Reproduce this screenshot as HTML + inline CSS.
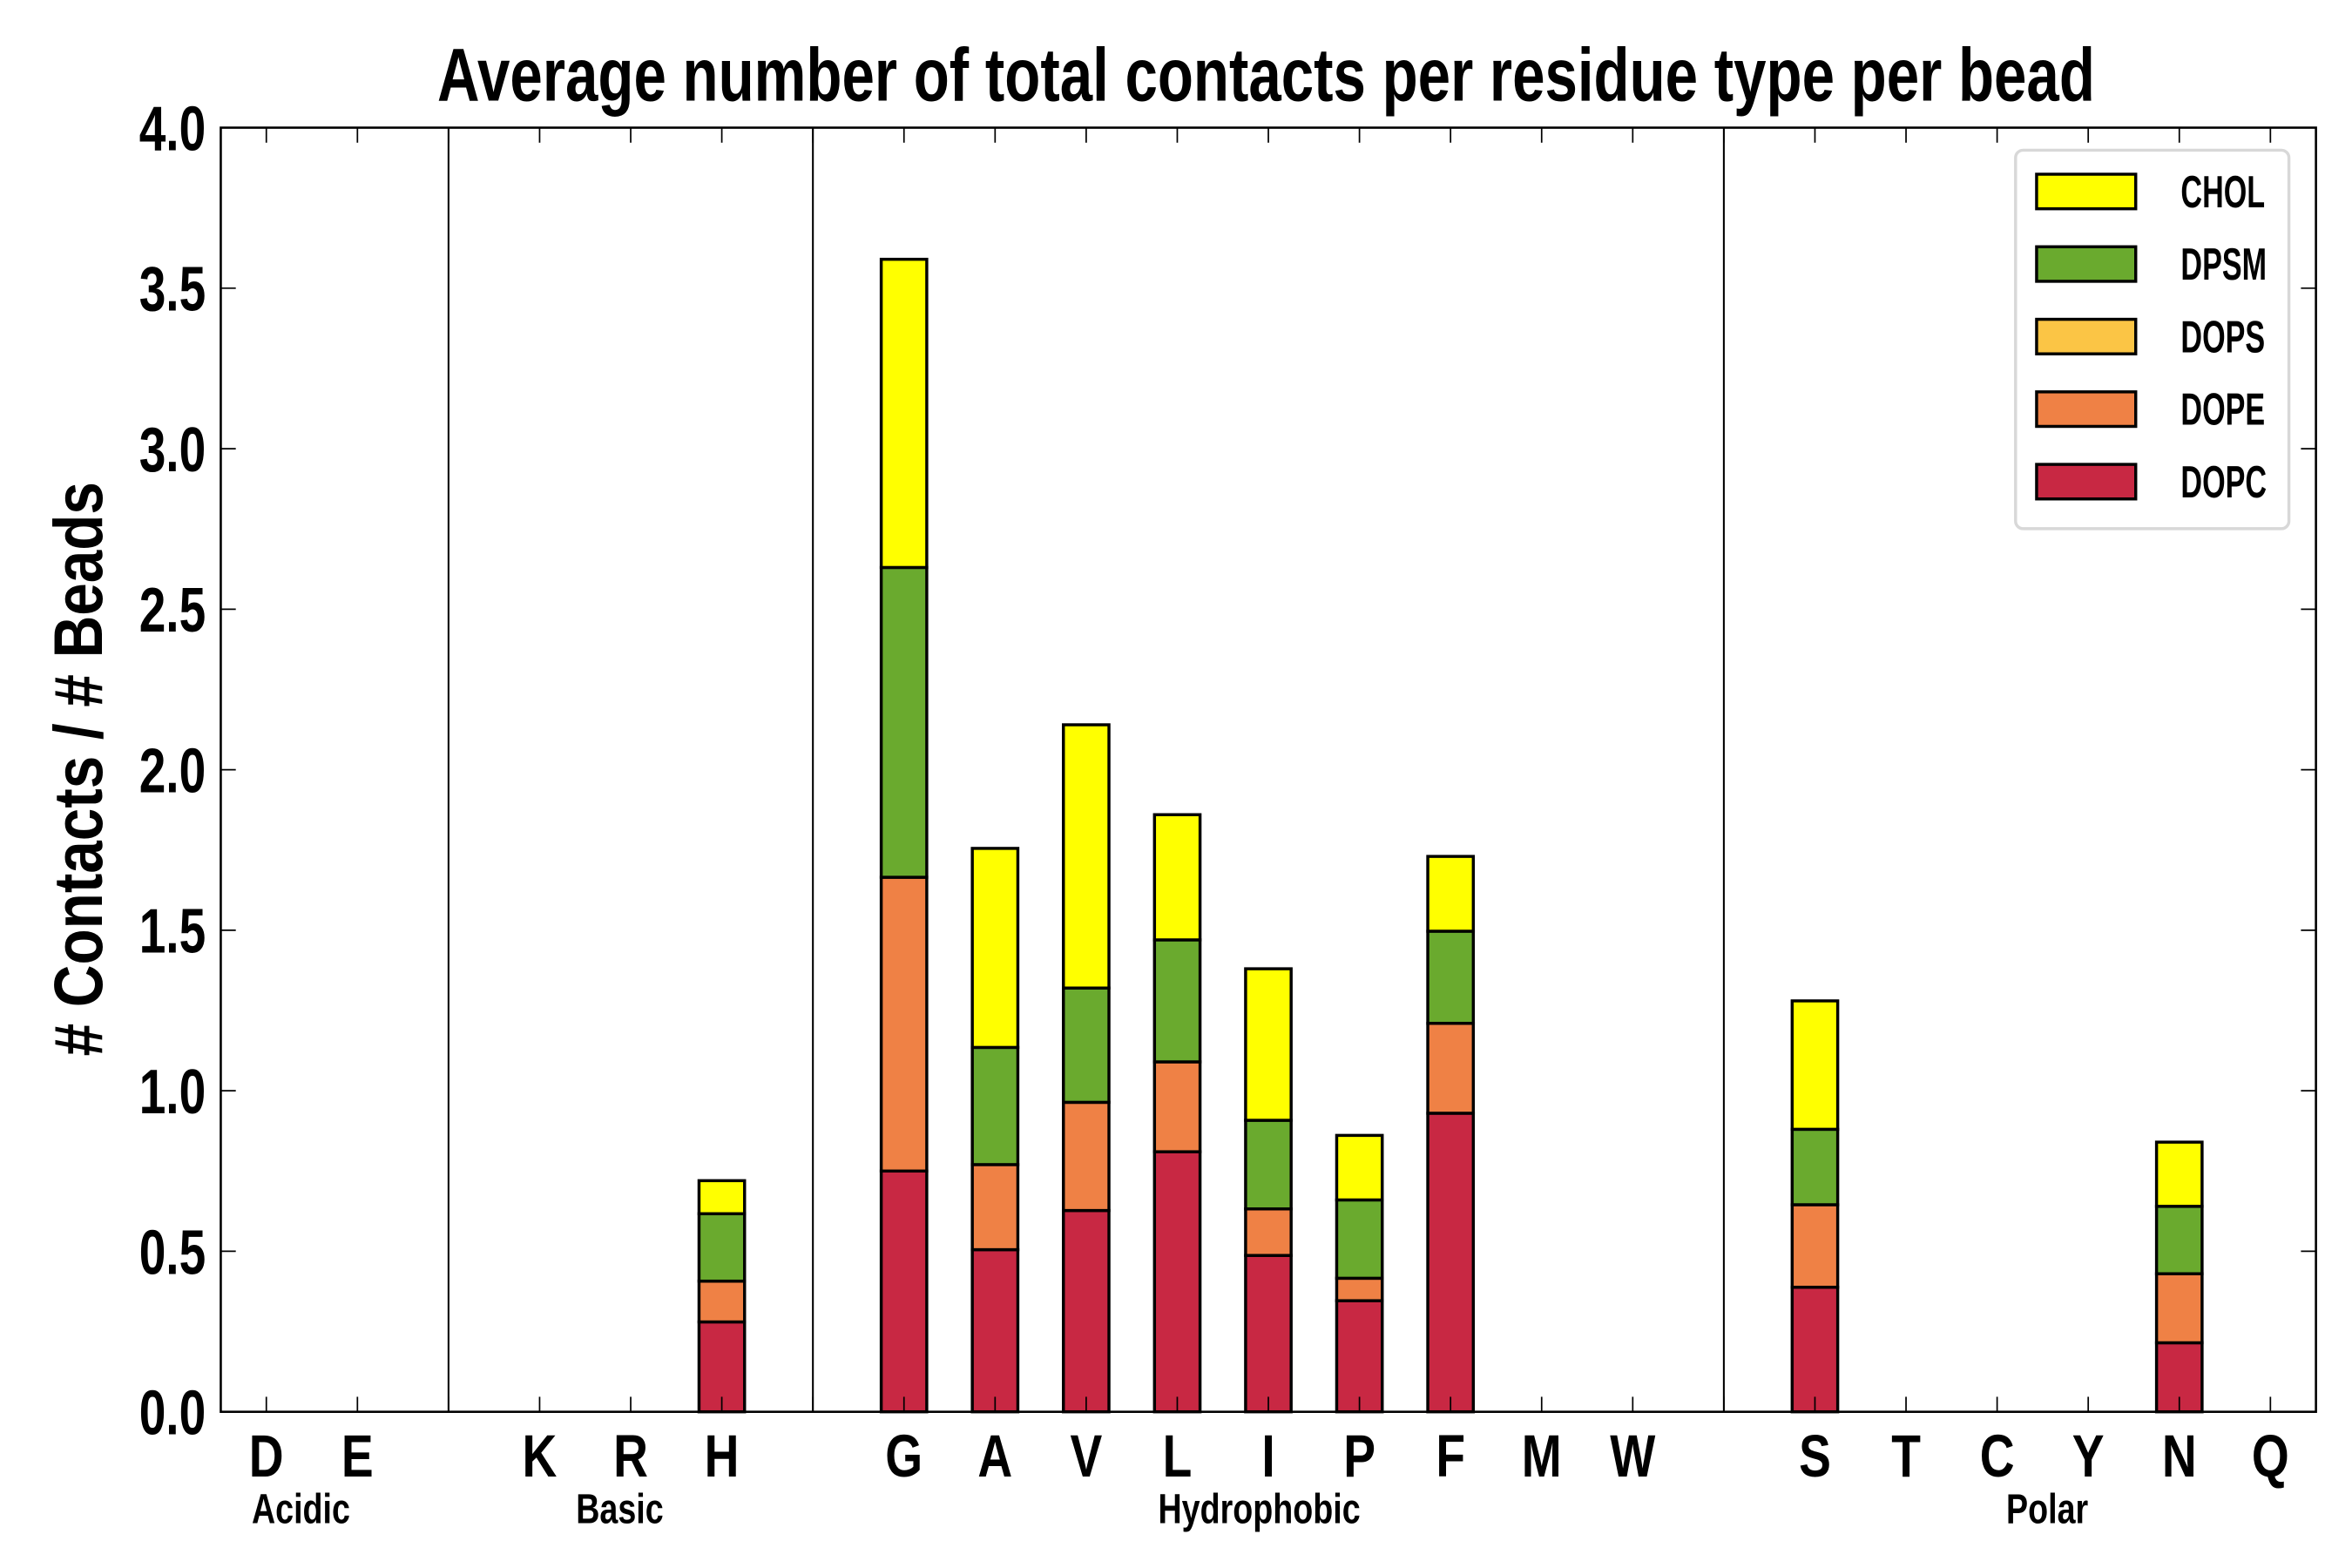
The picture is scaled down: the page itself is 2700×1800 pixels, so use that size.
<!DOCTYPE html>
<html><head><meta charset="utf-8"><style>
html,body{margin:0;padding:0;background:#fff;}
svg{display:block;}
text{font-family:"Liberation Sans Narrow","Liberation Sans",sans-serif;font-weight:bold;fill:#000;}
</style></head><body>
<svg id="chart" width="2700" height="1800" viewBox="0 0 1566 1044" xmlns="http://www.w3.org/2000/svg">
<text x="843" y="67" font-size="50" text-anchor="middle" transform="translate(843 0) scale(0.78 1) translate(-843 0)">Average number of total contacts per residue type per bead</text>
<text x="0" y="0" font-size="46" text-anchor="middle" transform="translate(68 512) rotate(-90) scale(0.85 1)">#  Contacts / # Beads</text>
<g id="plot"></g>
</svg>
<script>
const categories=["D","E","","K","R","H","","G","A","V","L","I","P","F","M","W","","S","T","C","Y","N","Q"];
const dopc=[0,0,0,0,0,0.28,0,0.75,0.505,0.627,0.81,0.487,0.346,0.93,0,0,0,0.388,0,0,0,0.215,0];
const dope=[0,0,0,0,0,0.127,0,0.915,0.265,0.337,0.28,0.145,0.07,0.28,0,0,0,0.257,0,0,0,0.215,0];
const dops=[0,0,0,0,0,0,0,0,0,0,0,0,0,0,0,0,0,0,0,0,0,0,0];
const dpsm=[0,0,0,0,0,0.21,0,0.965,0.365,0.356,0.38,0.276,0.244,0.287,0,0,0,0.235,0,0,0,0.21,0];
const chol=[0,0,0,0,0,0.103,0,0.96,0.62,0.82,0.39,0.472,0.201,0.233,0,0,0,0.4,0,0,0,0.2,0];
const seriesNames=["DOPC","DOPE","DOPS","DPSM","CHOL"];
const seriesColors=["#c82843","#ef8145","#fbc545","#6aaa2e","#ffff00"];
const yTicks=[0,0.5,1,1.5,2,2.5,3,3.5,4];
const groupNames=["Acidic","Basic","Hydrophobic","Polar"];
const groupCenters=[0.38,3.88,10.9,19.55];
const separators=[2,6,16];

const L=147,R=1542,T=85,B=940;
const x=i=>L+(i+0.5)*(R-L)/23;
const y=v=>B-(v/4)*(B-T);
const NS="http://www.w3.org/2000/svg";
const g=document.getElementById('plot');
function mk(t,a,p){const e=document.createElementNS(NS,t);for(const k in a)e.setAttribute(k,a[k]);(p||g).appendChild(e);return e;}

separators.forEach(s=>{
 const e=mk('line',{x1:x(s),x2:x(s),y1:T,y2:B,stroke:'#000','stroke-width':1.2});
 
 
});
const series=[dopc,dope,dops,dpsm,chol];
const bw=(R-L)/23*0.5;
categories.forEach((c,i)=>{
 let base=0;
 series.forEach((s,k)=>{
  const v=s[i];
  const r=mk('rect',{x:x(i)-bw/2,y:y(base+v),width:bw,height:Math.max(0,y(base)-y(base+v)),fill:seriesColors[k],stroke:'#000','stroke-width':v>0?2:1});
  
  
  base+=v;
 });
});
for(let i=0;i<23;i++){
 const t1=mk('line',{x1:x(i),x2:x(i),y1:T,y2:T+10,stroke:'#000','stroke-width':1});
 
 
 const t2=mk('line',{x1:x(i),x2:x(i),y1:B,y2:B-10,stroke:'#000','stroke-width':1});
 
 
 if(categories[i]){
  const tx=mk('text',{x:x(i),y:B+43,'font-size':40,'text-anchor':'middle',transform:`translate(${x(i)} 0) scale(0.8 1) translate(${-x(i)} 0)`});
  tx.textContent=categories[i];
  
  
 }
}
groupNames.forEach((n,k)=>{
 const cx=x(groupCenters[k]);
 const tx=mk('text',{x:cx,y:1014,'font-size':28,'text-anchor':'middle',transform:`translate(${cx} 0) scale(0.78 1) translate(${-cx} 0)`});
 tx.textContent=n;
 
 
});
yTicks.forEach(v=>{
 const a=mk('line',{x1:L,x2:L+10,y1:y(v),y2:y(v),stroke:'#000','stroke-width':1});
 
 
 const b=mk('line',{x1:R,x2:R-10,y1:y(v),y2:y(v),stroke:'#000','stroke-width':1});
 
 
 const t=mk('text',{x:137,y:y(v)+15,'font-size':42,'text-anchor':'end',transform:`translate(137 0) scale(0.76 1) translate(-137 0)`});
 t.textContent=v.toFixed(1);
 
 
});
const fr=mk('rect',{x:L,y:T,width:R-L,height:B-T,fill:'none',stroke:'#000','stroke-width':1.5});


const lg=mk('g',{});


const lb=mk('rect',{x:1342,y:100,width:182,height:252,rx:5,fill:'#fff',stroke:'#d8d8d8','stroke-width':2},lg);


[4,3,2,1,0].forEach((k,j)=>{
 const cy=127+j*48.3;
 const p=mk('rect',{x:1356,y:cy-11,width:66,height:23,fill:seriesColors[k],stroke:'#000','stroke-width':2},lg);
 
 
 const t=mk('text',{x:1452,y:cy+11,'font-size':30,transform:`translate(1452 0) scale(0.66 1) translate(-1452 0)`},lg);
 t.textContent=seriesNames[k];
 
 
});
</script>
</body></html>
